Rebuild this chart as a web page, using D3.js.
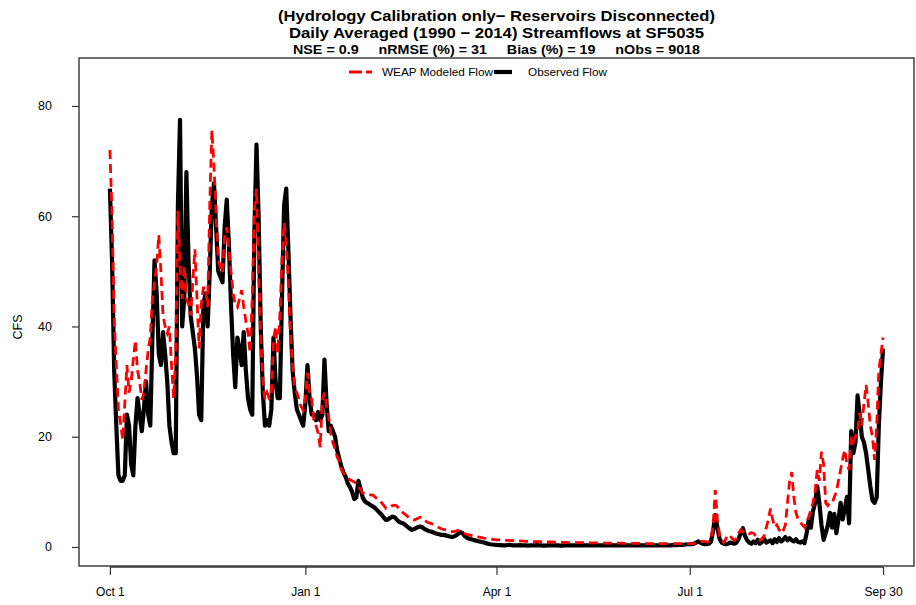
<!DOCTYPE html>
<html>
<head>
<meta charset="utf-8">
<script src="https://cdn.jsdelivr.net/npm/d3@7"></script>
<style>
  body { margin: 0; background: #fff; }
  svg text { font-family: "Liberation Sans", Arial, sans-serif; }
</style>
</head>
<body>
<div id="chart"></div>
<script>
// water year days, Oct 1 = day 0 .. Sep 30 = day 364
const observed = [
  65, 52, 32, 22, 13, 12, 12, 13, 24, 22,
  15, 13, 22, 27, 24, 21, 25, 30, 24, 22,
  38, 52, 46, 35, 33, 39, 35, 30, 22, 19,
  17, 17, 62, 77.5, 40, 45, 68, 52, 42, 39,
  36, 31, 24, 23, 44, 46, 40, 50, 62, 66,
  58, 50, 49, 48, 58, 63, 55, 44, 35, 29,
  38, 36, 33, 39, 32, 27, 25, 24, 57, 73,
  60, 40, 28, 22, 23, 22, 25, 38, 30, 27,
  27, 45, 62, 65, 54, 42, 32, 28, 25, 24,
  23, 22, 26, 33, 27, 24, 24, 23, 24.5, 23,
  24, 34, 26, 21, 22, 21, 20, 17.5, 16, 14.5,
  13.5, 12.7, 11.5, 10.9, 10, 8.7, 9, 12, 10.5, 9,
  8.3, 8, 7.8, 7.5, 7.3, 7, 6.6, 6.2, 5.8, 5.3,
  4.9, 5.0, 5.3, 5.5, 5.4, 5.0, 4.6, 4.4, 4.3, 4.0,
  3.7, 3.4, 3.1, 3.2, 3.4, 3.6, 3.7, 3.6, 3.3, 3.1,
  2.9, 2.8, 2.7, 2.5, 2.4, 2.3, 2.2, 2.2, 2.1, 2.0,
  1.9, 1.8, 1.9, 2.1, 2.4, 2.7, 2.5, 2.0, 1.7, 1.5,
  1.4, 1.3, 1.2, 1.1, 1.0, 0.9, 0.8, 0.7, 0.6, 0.5,
  0.45, 0.4, 0.4, 0.35, 0.35, 0.3, 0.3, 0.35, 0.4, 0.35,
  0.3, 0.3, 0.3, 0.35, 0.3, 0.3, 0.3, 0.25, 0.3, 0.3,
  0.3, 0.35, 0.3, 0.3, 0.25, 0.25, 0.3, 0.3, 0.3, 0.3,
  0.3, 0.3, 0.25, 0.25, 0.3, 0.3, 0.3, 0.3, 0.3, 0.3,
  0.3, 0.3, 0.3, 0.3, 0.3, 0.3, 0.3, 0.3, 0.3, 0.3,
  0.3, 0.3, 0.3, 0.3, 0.3, 0.3, 0.3, 0.3, 0.3, 0.3,
  0.3, 0.3, 0.3, 0.3, 0.3, 0.3, 0.3, 0.3, 0.3, 0.3,
  0.3, 0.3, 0.3, 0.3, 0.3, 0.3, 0.3, 0.3, 0.3, 0.3,
  0.3, 0.3, 0.3, 0.3, 0.3, 0.35, 0.35, 0.35, 0.4, 0.4,
  0.4, 0.45, 0.5, 0.5, 0.5, 0.6, 0.8, 1.0, 0.8, 0.6,
  0.5, 0.5, 0.6, 1.0, 3.0, 5.8, 3.5, 1.5, 0.8, 0.6,
  0.5, 0.6, 0.8, 0.7, 0.6, 0.8, 1.5, 2.5, 3.4, 2.0,
  1.2, 0.8, 0.6, 1.0, 0.7, 1.3, 0.6, 0.9, 1.5, 0.8,
  1.0, 1.2, 0.7, 1.4, 0.9, 1.6, 1.0, 1.3, 1.8, 1.2,
  1.6, 1.2, 1.0, 1.4, 0.9, 0.8, 1.0, 0.7, 2.5, 4.9,
  3.5, 6.5, 8, 11, 8, 4, 1.3, 2.5, 4, 6.2,
  3.5, 6, 2.5, 5, 8, 5, 7, 9.1, 4.3, 21,
  17, 19, 27.5, 24, 20, 19, 17, 14, 11, 8.5,
  8, 9, 22, 30, 36
];

const modeled = [
  72, 60, 41, 33, 25, 22.5, 19.4, 26, 33, 28,
  30, 34, 37.5, 32, 30, 26.7, 28, 32, 35.7, 38,
  45, 48, 51, 56.6, 50, 42, 40, 38.8, 40, 33,
  27, 35, 61, 51, 45, 51, 45, 44, 42, 48,
  54, 45, 36, 44, 47, 47, 43.5, 62, 75.6, 69,
  60, 52, 50.8, 49.7, 56, 58, 54, 50, 46, 44,
  43.5, 45, 46.6, 43.5, 41, 38.8, 35.2, 45, 61, 65,
  50, 38, 30, 26.7, 28, 27, 28, 37.5, 40, 35.2,
  42, 52, 58.8, 55, 47.9, 38.8, 32.7, 29, 28, 26.7,
  25.5, 24.8, 26.7, 31.6, 28, 26.7, 23, 22, 20.7, 18.1,
  26.7, 28, 25.5, 23.6, 20.5, 18.9, 17.8, 16.3, 15.5, 14,
  13.4, 13, 12.5, 12.2, 12, 11.8, 11.6, 11, 10.4, 9.8,
  9.7, 9.6, 9.5, 9.4, 9.4, 9, 8.7, 8.5, 8, 7.5,
  7, 7.1, 7.3, 7.5, 7.6, 7.5, 7, 6.6, 6.2, 5.9,
  5.6, 5.2, 5.0, 4.9, 5.0, 5.2, 5.4, 5.3, 4.9, 4.6,
  4.4, 4.3, 4.1, 3.9, 3.7, 3.5, 3.3, 3.2, 3.1, 3.0,
  2.9, 2.8, 2.8, 2.9, 3.0, 2.7, 2.5, 2.4, 2.3, 2.2,
  2.1, 2.0, 1.9, 1.85, 1.8, 1.7, 1.6, 1.55, 1.5, 1.45,
  1.4, 1.35, 1.3, 1.3, 1.25, 1.25, 1.2, 1.2, 1.2, 1.15,
  1.15, 1.1, 1.1, 1.1, 1.05, 1.05, 1.0, 1.0, 1.0, 1.0,
  0.95, 0.95, 0.95, 0.95, 0.9, 0.9, 0.9, 0.9, 0.9, 0.9,
  0.85, 0.85, 0.85, 0.85, 0.85, 0.85, 0.8, 0.8, 0.8, 0.8,
  0.8, 0.8, 0.8, 0.8, 0.75, 0.75, 0.75, 0.75, 0.75, 0.75,
  0.75, 0.7, 0.7, 0.7, 0.7, 0.7, 0.7, 0.7, 0.7, 0.7,
  0.7, 0.7, 0.65, 0.65, 0.65, 0.65, 0.65, 0.65, 0.65, 0.65,
  0.65, 0.6, 0.6, 0.6, 0.6, 0.6, 0.6, 0.6, 0.6, 0.6,
  0.6, 0.6, 0.6, 0.6, 0.6, 0.6, 0.6, 0.6, 0.6, 0.6,
  0.6, 0.6, 0.6, 0.6, 0.6, 0.6, 0.7, 0.8, 0.9, 1.0,
  1.0, 0.9, 1.0, 1.5, 4, 10.3, 5, 2, 1.2, 0.8,
  1.5, 2.2, 2.0, 1.5, 1.2, 1.5, 2.5, 3.1, 2.8, 2.5,
  2.7, 2.4, 2.6, 2.5, 2.0, 1.6, 1.2, 1.5, 2.0, 3.5,
  5, 7, 5, 3.6, 4, 3.2, 2.5, 3, 4, 8,
  12, 13.6, 9, 6.2, 5, 4.5, 4, 3.6, 4.5, 5.5,
  6.7, 8, 10, 14, 12, 17.3, 15, 8, 7.5, 8,
  8, 9, 10, 12, 14, 16, 17.6, 15, 14, 20,
  19, 20, 21, 24.3, 22, 26, 29.4, 26, 22, 20,
  15.8, 22, 32, 35, 38
];

const tickDays = [0, 92, 182, 273, 364];
const tickLabels = ["Oct 1", "Jan 1", "Apr 1", "Jul 1", "Sep 30"];
const yTicks = [0, 20, 40, 60, 80];
const seriesNames = ["WEAP Modeled Flow", "Observed Flow"];
const titleLines = [
  "(Hydrology Calibration only\u2212 Reservoirs Disconnected)",
  "Daily Averaged (1990 \u2212 2014) Streamflows at SF5035",
  "NSE = 0.9     nRMSE (%) = 31     Bias (%) = 19     nObs = 9018"
];

const width = 916;
const height = 605;
const box = { left: 79, right: 914, top: 58, bottom: 566 };

const svg = d3.select("#chart").append("svg")
  .attr("width", width)
  .attr("height", height);

// R style 4% padding around the data range
const x = d3.scaleLinear().domain([-14.56, 378.56]).range([box.left, box.right]);
const y = d3.scaleLinear().domain([-3.45, 88.7]).range([box.bottom, box.top]);

const line = d3.line()
  .x((d, i) => x(i))
  .y(d => y(d));

svg.append("defs").append("clipPath").attr("id", "clip")
  .append("rect")
  .attr("x", box.left).attr("y", box.top)
  .attr("width", box.right - box.left).attr("height", box.bottom - box.top);

const plot = svg.append("g").attr("clip-path", "url(#clip)");

plot.append("path")
  .datum(observed)
  .attr("fill", "none")
  .attr("stroke", "#000")
  .attr("stroke-width", 4.2)
  .attr("stroke-linejoin", "round")
  .attr("d", line);

plot.append("path")
  .datum(modeled)
  .attr("fill", "none")
  .attr("stroke", "#ff0000")
  .attr("stroke-width", 2.8)
  .attr("stroke-dasharray", "9,5")
  .attr("d", line);

// box
svg.append("rect")
  .attr("x", box.left).attr("y", box.top)
  .attr("width", box.right - box.left).attr("height", box.bottom - box.top)
  .attr("fill", "none")
  .attr("stroke", "#333")
  .attr("stroke-width", 1.4);

// x axis: line only between first and last tick, like R
const xAxis = d3.axisBottom(x)
  .tickValues(tickDays)
  .tickFormat((d, i) => tickLabels[i])
  .tickSizeInner(8)
  .tickSizeOuter(0)
  .tickPadding(12);

const gx = svg.append("g")
  .attr("transform", `translate(0,${box.bottom + 1})`)
  .call(xAxis);
gx.select(".domain").remove();
gx.append("line")
  .attr("x1", x(tickDays[0])).attr("x2", x(tickDays[tickDays.length - 1]))
  .attr("stroke", "#333").attr("stroke-width", 1.4);
gx.selectAll(".tick line").attr("stroke", "#333").attr("stroke-width", 1.2);
gx.selectAll("text").attr("font-size", 12).attr("fill", "#000");

// y axis
const yAxis = d3.axisLeft(y)
  .tickValues(yTicks)
  .tickSizeInner(7)
  .tickSizeOuter(0)
  .tickPadding(20);

const gy = svg.append("g")
  .attr("transform", `translate(${box.left},0)`)
  .call(yAxis);
gy.select(".domain").remove();
gy.selectAll(".tick line").attr("stroke", "#333").attr("stroke-width", 1.2);
gy.selectAll("text").attr("font-size", 12.5).attr("fill", "#000");

svg.append("text")
  .attr("transform", "translate(22,327) rotate(-90)")
  .attr("text-anchor", "middle")
  .attr("font-size", 12.5)
  .text("CFS");

// titles
const cx = (box.left + box.right) / 2;
const titleY = [21, 38, 54];
const titleW = [437, 415, 407];
const titleSize = [15, 15, 12.5];
titleLines.forEach((t, i) => {
  svg.append("text")
    .attr("x", cx)
    .attr("y", titleY[i])
    .attr("text-anchor", "middle")
    .attr("font-weight", "bold")
    .attr("font-size", titleSize[i])
    .attr("textLength", titleW[i])
    .attr("lengthAdjust", "spacingAndGlyphs")
    .style("white-space", "pre")
    .text(t);
});

// legend
const legend = svg.append("g");
legend.append("line")
  .attr("x1", 349).attr("x2", 372).attr("y1", 72).attr("y2", 72)
  .attr("stroke", "#ff0000").attr("stroke-width", 2.8)
  .attr("stroke-dasharray", "13,4");
legend.append("text")
  .attr("x", 382).attr("y", 76)
  .attr("font-size", 10.5)
  .attr("textLength", 111)
  .attr("lengthAdjust", "spacingAndGlyphs")
  .text(seriesNames[0]);
legend.append("line")
  .attr("x1", 494).attr("x2", 512).attr("y1", 72).attr("y2", 72)
  .attr("stroke", "#000").attr("stroke-width", 4.2);
legend.append("text")
  .attr("x", 528).attr("y", 76)
  .attr("font-size", 10.5)
  .attr("textLength", 79)
  .attr("lengthAdjust", "spacingAndGlyphs")
  .text(seriesNames[1]);
</script>
</body>
</html>
